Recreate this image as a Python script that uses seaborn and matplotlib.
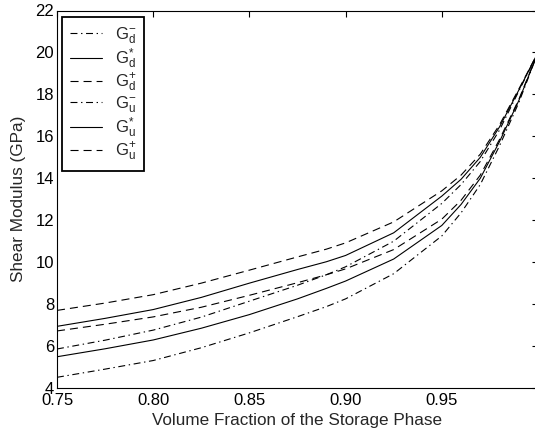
import matplotlib
matplotlib.use("Agg")
import matplotlib.pyplot as plt
import seaborn as sns
import pandas as pd

# ---- data ----
phi = [0.75, 0.775, 0.80, 0.825, 0.85, 0.875, 0.89, 0.90, 0.925, 0.95, 0.96, 0.97, 0.98, 0.99, 1.00]

Gd_minus = [4.51, 4.90, 5.31, 5.92, 6.63, 7.40, 7.88, 8.25, 9.45, 11.25, 12.35, 13.70, 15.55, 17.60, 20.0]
Gd_star  = [5.49, 5.87, 6.29, 6.85, 7.50, 8.25, 8.75, 9.10, 10.15, 11.75, 12.75, 14.00, 15.75, 17.70, 20.0]
Gd_plus  = [6.72, 7.04, 7.39, 7.85, 8.42, 9.02, 9.40, 9.68, 10.60, 12.05, 12.95, 14.15, 15.85, 17.75, 20.0]
Gu_minus = [5.86, 6.28, 6.76, 7.38, 8.14, 8.90, 9.40, 9.78, 11.00, 12.80, 13.70, 14.80, 16.30, 18.15, 20.0]
Gu_star  = [6.94, 7.32, 7.74, 8.32, 9.00, 9.65, 10.02, 10.32, 11.40, 13.15, 13.95, 15.00, 16.45, 18.20, 20.0]
Gu_plus  = [7.70, 8.05, 8.45, 9.00, 9.62, 10.25, 10.62, 10.92, 11.92, 13.40, 14.15, 15.15, 16.55, 18.25, 20.0]

labels = [r"$\mathregular{G_d^{-}}$", r"$\mathregular{G_d^{*}}$", r"$\mathregular{G_d^{+}}$",
          r"$\mathregular{G_u^{-}}$", r"$\mathregular{G_u^{*}}$", r"$\mathregular{G_u^{+}}$"]
series = [Gd_minus, Gd_star, Gd_plus, Gu_minus, Gu_star, Gu_plus]

xticks = [0.75, 0.80, 0.85, 0.90, 0.95, 1.00]
xticklabels = ["0.75", "0.80", "0.85", "0.90", "0.95", "1"]
yticks = list(range(4, 23, 2))

# ---- style ----
sns.set_theme(style="white")
plt.rcParams["font.family"] = ["Liberation Sans", "DejaVu Sans"]
plt.rcParams["mathtext.fontset"] = "custom"
plt.rcParams["mathtext.rm"] = "Liberation Sans"
plt.rcParams["lines.scale_dashes"] = False

styles = {
    "dashdot": (0, (5.0, 2.6, 1.0, 2.6)),
    "solid": "-",
    "dashed": (0, (5.8, 3.6)),
}
ls_list = [styles["dashdot"], styles["solid"], styles["dashed"]] * 2

fig = plt.figure(figsize=(5.35, 4.34), dpi=100)
ax = fig.add_axes([57 / 535, 46 / 434, 481 / 535, 377.5 / 434])

for lab, vals, ls in zip(labels, series, ls_list):
    df = pd.DataFrame({"phi": phi, "G": vals})
    sns.lineplot(data=df, x="phi", y="G", ax=ax, color="black", lw=0.8,
                 linestyle=ls, label=lab, sort=True)

ax.set_xlim(0.75, 1.0)
ax.set_ylim(4, 22)
ax.set_xticks(xticks)
ax.set_xticklabels(xticklabels)
ax.set_yticks(yticks)

ax.tick_params(direction="in", top=True, right=True, length=4, width=0.8,
               labelsize=12, colors="black", pad=2)
ax.tick_params(axis="x", pad=3.5)
for s in ax.spines.values():
    s.set_visible(True)
    s.set_color("black")
    s.set_linewidth(0.8)

ax.set_xlabel("Volume Fraction of the Storage Phase", fontsize=12.3)
ax.set_ylabel("Shear Modulus (GPa)", fontsize=12.3)
ax.xaxis.set_label_coords(0.5, -0.066)
ax.yaxis.set_label_coords(-0.064, 0.5)

leg = ax.legend(loc="upper left", bbox_to_anchor=(0.0105, 0.983), frameon=True,
                fontsize=12, handlelength=1.9, handletextpad=0.75,
                labelspacing=0.03, borderpad=0.5, fancybox=False, borderaxespad=0)
leg.get_frame().set_edgecolor("black")
leg.get_frame().set_linewidth(1.3)
leg.get_frame().set_alpha(1)

fig.savefig("out.png", dpi=100)
